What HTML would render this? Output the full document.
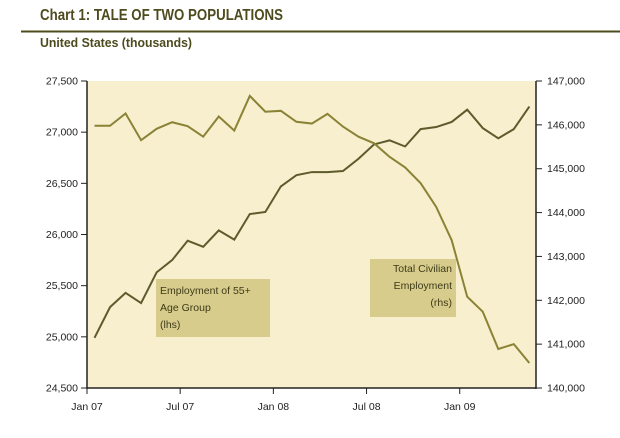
<!DOCTYPE html>
<html><head><meta charset="utf-8"><style>
body{margin:0;background:#fff;width:620px;height:433px;overflow:hidden;font-family:"Liberation Sans",sans-serif}
</style></head><body>
<svg width="620" height="433" xmlns="http://www.w3.org/2000/svg">
<text x="40" y="20" font-size="15.5" font-weight="bold" fill="#4e4b1e" textLength="243" lengthAdjust="spacingAndGlyphs">Chart 1: TALE OF TWO POPULATIONS</text>
<line x1="21" y1="31.5" x2="620" y2="31.5" stroke="#4e4b1e" stroke-width="2"/>
<text x="40" y="47" font-size="13" font-weight="bold" fill="#4e4b1e" textLength="152" lengthAdjust="spacingAndGlyphs">United States (thousands)</text>
<rect x="87" y="81" width="449" height="307" fill="#f8efcf"/>
<g id="axes"></g>
<rect x="156" y="279" width="114" height="58" fill="#d7cc8c"/>
<text font-size="10.5" fill="#3e3b18"><tspan x="160" y="294">Employment of 55+</tspan><tspan x="160" y="311">Age Group</tspan><tspan x="160" y="328">(lhs)</tspan></text>
<rect x="370" y="259" width="86" height="58" fill="#d7cc8c"/>
<text font-size="10.5" fill="#3e3b18" text-anchor="end"><tspan x="452" y="272">Total Civilian</tspan><tspan x="452" y="289">Employment</tspan><tspan x="452" y="306">(rhs)</tspan></text>
<g id="series"></g>
</svg>
<script>
const xTickLabels=["Jan 07","Jul 07","Jan 08","Jul 08","Jan 09"];
const leftTicks=[24500,25000,25500,26000,26500,27000,27500];
const rightTicks=[140000,141000,142000,143000,144000,145000,146000,147000];
const age55=[24990,25290,25430,25330,25630,25750,25940,25880,26040,25950,26200,26220,26470,26580,26610,26610,26620,26740,26880,26920,26860,27030,27050,27100,27220,27040,26940,27030,27250];
const civilian=[145980,145980,146260,145650,145910,146060,145970,145730,146190,145870,146660,146300,146320,146070,146030,146250,145960,145730,145580,145270,145030,144670,144130,143370,142080,141740,140890,141000,140570];
const NS="http://www.w3.org/2000/svg";
const L=87,R=536,T=81,B=388;
const xm=i=>L+7.5+i*15.53;
const xt=i=>L+i*6*15.53;
const yl=v=>B-(v-24500)/3000*(B-T);
const yr=v=>B-(v-140000)/7000*(B-T);
function mk(t,a,p){const e=document.createElementNS(NS,t);for(const k in a)e.setAttribute(k,a[k]);p.appendChild(e);return e;}
const ax=document.getElementById('axes');
const la=mk('line',{x1:L,y1:T,x2:L,y2:B+1,stroke:'#222','stroke-width':1.5},ax);


const ra=mk('line',{x1:R,y1:T,x2:R,y2:B+1,stroke:'#222','stroke-width':1.5},ax);


const ba=mk('line',{x1:L,y1:B,x2:R,y2:B,stroke:'#222','stroke-width':1.5},ax);


leftTicks.forEach(v=>{const y=yl(v);
mk('line',{x1:L-6,y1:y,x2:L,y2:y,stroke:'#222'},ax);
const t=mk('text',{x:L-9,y:y+3.5,'font-size':10.5,'text-anchor':'end',fill:'#222'},ax);t.textContent=v.toLocaleString('en-US');

});
rightTicks.forEach(v=>{const y=yr(v);
mk('line',{x1:R,y1:y,x2:R+6,y2:y,stroke:'#222'},ax);
const t=mk('text',{x:R+11,y:y+3.5,'font-size':10.5,fill:'#222'},ax);t.textContent=v.toLocaleString('en-US');

});
xTickLabels.forEach((s,i)=>{const x=xt(i);
mk('line',{x1:x,y1:B,x2:x,y2:B+6,stroke:'#222'},ax);
const t=mk('text',{x:x,y:B+22,'font-size':10.5,'text-anchor':'middle',fill:'#222'},ax);t.textContent=s;

});
const sg=document.getElementById('series');
const p1=mk('polyline',{points:age55.map((v,i)=>xm(i)+','+yl(v)).join(' '),fill:'none',stroke:'#5d5a2b','stroke-width':2},sg);


const p2=mk('polyline',{points:civilian.map((v,i)=>xm(i)+','+yr(v)).join(' '),fill:'none',stroke:'#8a8235','stroke-width':2},sg);


</script>
</body></html>
